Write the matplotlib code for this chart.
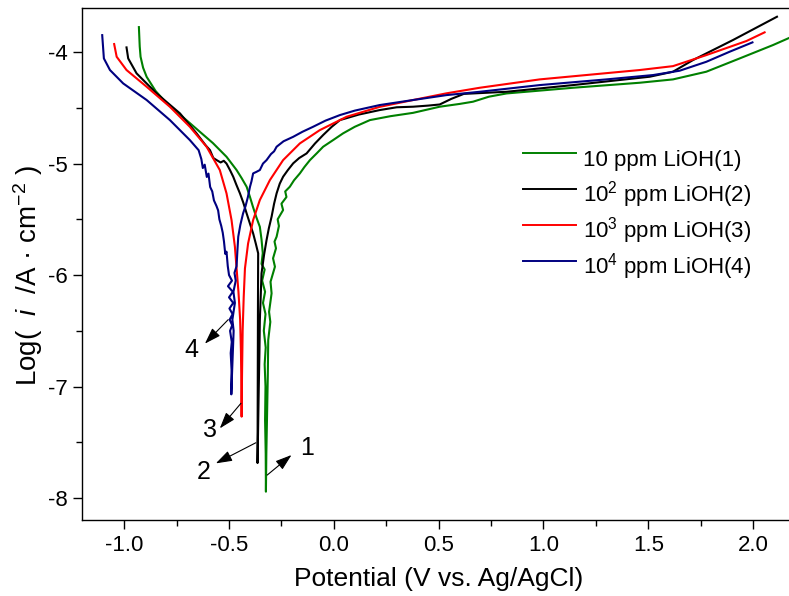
import matplotlib
matplotlib.use("Agg")
import matplotlib.pyplot as plt
from matplotlib.ticker import MultipleLocator

plt.rcParams['font.family'] = ['Liberation Sans', 'DejaVu Sans']
plt.rcParams['mathtext.fontset'] = 'custom'
plt.rcParams['mathtext.rm'] = 'Liberation Sans'
plt.rcParams['mathtext.it'] = 'Liberation Sans:italic'

# ---------------- data (potential V vs Ag/AgCl, log current density) ----------------
green_pts = [(-0.930,-3.776), (-0.926,-3.950), (-0.922,-4.042), (-0.910,-4.140), (-0.893,-4.222),
             (-0.850,-4.350), (-0.798,-4.457), (-0.687,-4.637), (-0.577,-4.816), (-0.512,-4.939),
             (-0.464,-5.058), (-0.440,-5.130), (-0.416,-5.208), (-0.400,-5.300), (-0.386,-5.387),
             (-0.370,-5.480), (-0.353,-5.567), (-0.345,-5.680), (-0.339,-5.803), (-0.345,-5.900),
             (-0.330,-5.950), (-0.342,-6.050), (-0.328,-6.150), (-0.338,-6.250), (-0.326,-6.350),
             (-0.334,-6.500), (-0.325,-6.650), (-0.330,-6.800), (-0.326,-7.000), (-0.328,-7.300),
             (-0.325,-7.600), (-0.324,-7.943), (-0.322,-7.600), (-0.318,-7.200), (-0.315,-6.900),
             (-0.313,-6.583), (-0.303,-6.420), (-0.309,-6.330), (-0.297,-6.164), (-0.302,-6.060),
             (-0.281,-5.925), (-0.290,-5.850), (-0.276,-5.760), (-0.283,-5.700), (-0.273,-5.656),
             (-0.262,-5.560), (-0.268,-5.500), (-0.242,-5.417), (-0.250,-5.360), (-0.226,-5.300),
             (-0.232,-5.250), (-0.210,-5.208), (-0.190,-5.150), (-0.162,-5.088), (-0.140,-5.030),
             (-0.114,-4.969), (-0.080,-4.905), (-0.051,-4.849), (0.000,-4.785), (0.044,-4.729),
             (0.100,-4.670), (0.172,-4.610), (0.270,-4.575), (0.378,-4.545), (0.505,-4.490),
             (0.600,-4.465), (0.664,-4.445), (0.740,-4.400), (0.824,-4.371), (1.141,-4.320),
             (1.459,-4.275), (1.618,-4.245), (1.777,-4.176), (1.936,-4.057), (2.095,-3.937),
             (2.200,-3.850)]

black_pts = [(-0.989,-3.958), (-0.981,-4.057), (-0.941,-4.191), (-0.846,-4.370), (-0.734,-4.550),
             (-0.655,-4.729), (-0.610,-4.840), (-0.591,-4.879), (-0.575,-4.950), (-0.559,-4.969),
             (-0.540,-4.990), (-0.525,-4.975), (-0.512,-5.000), (-0.495,-5.060), (-0.480,-5.118),
             (-0.465,-5.190), (-0.448,-5.267), (-0.432,-5.350), (-0.416,-5.447), (-0.400,-5.540),
             (-0.385,-5.626), (-0.372,-5.720), (-0.361,-5.805), (-0.362,-6.300), (-0.363,-7.000),
             (-0.364,-7.686), (-0.358,-7.000), (-0.355,-6.700), (-0.353,-6.404), (-0.349,-6.200),
             (-0.345,-5.985), (-0.333,-5.820), (-0.321,-5.686), (-0.310,-5.580), (-0.297,-5.477),
             (-0.285,-5.360), (-0.273,-5.267), (-0.258,-5.180), (-0.242,-5.118), (-0.220,-5.060),
             (-0.194,-4.998), (-0.165,-4.950), (-0.130,-4.909), (-0.090,-4.820), (-0.051,-4.744),
             (-0.010,-4.670), (0.029,-4.610), (0.120,-4.560), (0.219,-4.520), (0.300,-4.495),
             (0.378,-4.490), (0.450,-4.480), (0.505,-4.470), (0.560,-4.420), (0.620,-4.375),
             (0.824,-4.356), (1.141,-4.296), (1.507,-4.221), (1.618,-4.176), (1.713,-4.072),
             (1.904,-3.892), (2.114,-3.683)]

red_pts = [(-1.048,-3.928), (-1.036,-4.042), (-0.989,-4.161), (-0.893,-4.311), (-0.782,-4.491),
           (-0.687,-4.670), (-0.607,-4.849), (-0.544,-5.058), (-0.512,-5.267), (-0.488,-5.507),
           (-0.472,-5.746), (-0.464,-5.940), (-0.455,-6.150), (-0.447,-6.400), (-0.443,-6.700),
           (-0.441,-7.000), (-0.440,-7.270), (-0.438,-6.900), (-0.435,-6.500), (-0.430,-6.200),
           (-0.424,-5.940), (-0.409,-5.716), (-0.385,-5.507), (-0.353,-5.327), (-0.305,-5.148),
           (-0.242,-4.969), (-0.162,-4.819), (-0.067,-4.700), (0.061,-4.580), (0.219,-4.491),
           (0.378,-4.430), (0.537,-4.370), (0.696,-4.320), (0.982,-4.245), (1.459,-4.161),
           (1.618,-4.126), (1.777,-4.027), (1.968,-3.901), (2.055,-3.823)]

blue_pts = [(-1.105,-3.848), (-1.097,-4.057), (-1.068,-4.161), (-1.005,-4.281), (-0.893,-4.430),
            (-0.782,-4.610), (-0.687,-4.789), (-0.645,-4.880), (-0.632,-4.960), (-0.625,-5.040),
            (-0.616,-5.010), (-0.606,-5.120), (-0.598,-5.090), (-0.590,-5.210), (-0.580,-5.250),
            (-0.572,-5.330), (-0.560,-5.380), (-0.552,-5.420), (-0.546,-5.500), (-0.537,-5.560),
            (-0.530,-5.620), (-0.524,-5.700), (-0.518,-5.810), (-0.512,-5.790), (-0.506,-5.920),
            (-0.500,-6.000), (-0.486,-6.050), (-0.505,-6.100), (-0.482,-6.150), (-0.500,-6.200),
            (-0.480,-6.250), (-0.498,-6.300), (-0.483,-6.350), (-0.497,-6.400), (-0.485,-6.450),
            (-0.495,-6.500), (-0.487,-6.600), (-0.492,-6.700), (-0.488,-6.850), (-0.489,-7.070),
            (-0.486,-6.900), (-0.482,-6.700), (-0.478,-6.500), (-0.484,-6.400), (-0.472,-6.250),
            (-0.479,-6.150), (-0.468,-6.050), (-0.474,-5.980), (-0.464,-5.920), (-0.460,-5.780),
            (-0.456,-5.656), (-0.446,-5.550), (-0.433,-5.447), (-0.421,-5.380), (-0.410,-5.300),
            (-0.400,-5.208), (-0.393,-5.160), (-0.385,-5.088), (-0.370,-5.075), (-0.353,-5.058),
            (-0.338,-5.000), (-0.321,-4.969), (-0.300,-4.915), (-0.285,-4.890), (-0.273,-4.849),
            (-0.240,-4.800), (-0.194,-4.760), (-0.150,-4.715), (-0.099,-4.670), (-0.040,-4.615),
            (0.029,-4.565), (0.100,-4.525), (0.219,-4.475), (0.378,-4.430), (0.537,-4.386),
            (0.696,-4.356), (0.982,-4.296), (1.300,-4.245), (1.523,-4.206), (1.650,-4.167),
            (1.777,-4.087), (1.888,-3.997), (1.997,-3.913)]

series_labels = ['10 ppm LiOH(1)', '10$^{2}$ ppm LiOH(2)', '10$^{3}$ ppm LiOH(3)', '10$^{4}$ ppm LiOH(4)']
series_colors = ['#008000', '#000000', '#ff0000', '#000080']

# curve annotations: label, text position, arrow tail, arrow head
ann_labels = ['1', '2', '3', '4']
ann_text = [(-0.130, -7.554), (-0.620, -7.764), (-0.591, -7.390), (-0.679, -6.670)]
ann_tail = [(-0.318, -7.794), (-0.372, -7.504), (-0.443, -7.150), (-0.504, -6.400)]
ann_head = [(-0.202, -7.614), (-0.563, -7.689), (-0.544, -7.375), (-0.615, -6.615)]

xticks = [-1.0, -0.5, 0.0, 0.5, 1.0, 1.5, 2.0]
yticks = [-8, -7, -6, -5, -4]

# ---------------- figure ----------------
fig = plt.figure(figsize=(7.89, 5.96), dpi=100)
ax = fig.add_axes([0.1043, 0.1275, 0.9033, 0.859])

for pts, lab, col in zip([green_pts, black_pts, red_pts, blue_pts], series_labels, series_colors):
    xs = [p[0] for p in pts]
    ys = [p[1] for p in pts]
    ax.plot(xs, ys, color=col, lw=1.5, label=lab)

for lab, tp, tl, hd in zip(ann_labels, ann_text, ann_tail, ann_head):
    ax.annotate('', xy=hd, xytext=tl,
                arrowprops=dict(arrowstyle='-|>,head_length=0.9,head_width=0.3',
                                color='black', lw=0.8, shrinkA=0, shrinkB=0, mutation_scale=11))
    ax.text(tp[0], tp[1], lab, fontsize=18, ha='center', va='center')

ax.set_xlim(-1.2, 2.2)
ax.set_ylim(-8.197, -3.605)
ax.set_xticks(xticks)
ax.set_xticklabels([f'{t:.1f}' for t in xticks])
ax.set_yticks(yticks)
ax.set_yticklabels([f'{t:d}' for t in yticks])
ax.xaxis.set_minor_locator(MultipleLocator(0.25))
ax.yaxis.set_minor_locator(MultipleLocator(0.5))
ax.tick_params(which='major', direction='out', length=6.5, width=1.0, labelsize=16, pad=4,
               top=False, right=False)
ax.tick_params(which='minor', direction='out', length=4.5, width=1.0, top=False, right=False)
for s in ax.spines.values():
    s.set_linewidth(1.0)

ax.set_xlabel('Potential (V vs. Ag/AgCl)', fontsize=19, labelpad=8)
ax.set_ylabel('Log(  $i$  /A · cm$^{-2}$ )', fontsize=20)
ax.yaxis.set_label_coords(-0.053, 0.478)

leg = ax.legend(loc='upper left', bbox_to_anchor=(523 / 789, 1 - 141 / 596),
                bbox_transform=fig.transFigure, frameon=False, fontsize=16,
                handlelength=2.4, handleheight=2.1, handletextpad=0.3, labelspacing=0.0,
                borderpad=0, borderaxespad=0)
for line in leg.get_lines():
    line.set_linewidth(1.4)

fig.savefig('out.png', dpi=100)
